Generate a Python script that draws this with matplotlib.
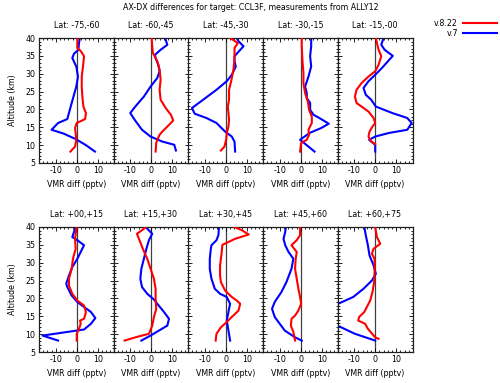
import matplotlib
matplotlib.use("Agg")
import matplotlib.pyplot as plt
from matplotlib.ticker import MultipleLocator

lat_labels = ["Lat: -75,-60", "Lat: -60,-45", "Lat: -45,-30", "Lat: -30,-15", "Lat: -15,-00",
              "Lat: +00,+15", "Lat: +15,+30", "Lat: +30,+45", "Lat: +45,+60", "Lat: +60,+75"]

# v.8.22 (red): altitude (km) and VMR diff (pptv) per latitude band
red_alt_1 = [8.2, 9.6, 11.5, 13.4, 14.8, 16.2, 17.3, 19.0, 20.8, 23.6, 26.4, 29.2, 32.0, 34.9, 36.3, 37.2, 40.0]
red_vmr_1 = [-3.0, -0.8, -0.2, -0.5, -0.8, 0.0, 4.0, 4.4, 3.2, 2.7, 2.4, 2.4, 3.0, 3.5, 2.0, 0.3, 0.3]
red_alt_2 = [8.2, 10.6, 11.5, 12.9, 13.8, 15.2, 16.9, 18.5, 20.4, 22.7, 25.5, 28.3, 31.1, 33.5, 35.8, 37.7, 40.0]
red_vmr_2 = [2.1, 2.4, 2.9, 4.0, 5.3, 7.7, 10.5, 9.4, 6.9, 4.5, 4.0, 4.5, 4.0, 2.9, 0.8, 0.5, 0.2]
red_alt_3 = [8.5, 9.6, 11.5, 13.4, 15.2, 17.1, 19.0, 20.8, 22.7, 25.5, 27.9, 31.1, 34.4, 37.2, 38.6, 40.0]
red_vmr_3 = [-2.3, -0.6, 0.2, 0.5, 1.3, 1.6, 1.3, 1.0, 1.6, 1.6, 2.6, 3.7, 4.2, 4.2, 5.8, 2.1]
red_alt_4 = [8.2, 10.6, 11.5, 12.9, 14.3, 16.2, 18.0, 19.9, 22.2, 24.6, 27.4, 30.2, 33.9, 37.7, 40.0]
red_vmr_4 = [-0.3, 0.2, 2.9, 4.0, 3.7, 5.3, 5.3, 4.0, 3.4, 2.1, 1.3, 1.3, 0.8, 0.5, 0.5]
red_alt_5 = [10.3, 11.0, 12.4, 13.8, 15.2, 16.2, 17.6, 19.4, 20.8, 21.8, 23.6, 25.5, 27.4, 29.2, 30.7, 32.5, 34.9, 36.7, 38.6, 40.0]
red_vmr_5 = [0.0, -1.9, -3.2, -2.7, -1.3, 0.0, -0.8, -3.2, -6.5, -8.9, -9.7, -8.9, -6.5, -3.2, 0.0, 1.6, 2.9, 1.6, 0.8, 0.3]
red_alt_6 = [8.2, 10.1, 11.5, 12.9, 13.8, 14.3, 16.2, 18.0, 19.4, 21.3, 23.6, 25.5, 28.3, 31.1, 33.9, 36.7, 40.0]
red_vmr_6 = [0.0, 0.0, 1.1, 1.9, 1.6, 3.5, 4.4, 3.5, 0.3, -2.1, -3.7, -3.7, -2.4, -1.8, -0.5, -0.8, 0.0]
red_alt_7 = [8.2, 9.1, 10.1, 12.4, 14.8, 17.1, 19.9, 22.7, 25.5, 28.3, 31.1, 33.9, 36.3, 38.1, 39.5, 40.0]
red_vmr_7 = [-12.7, -7.6, -1.1, 0.5, 1.3, 2.4, 2.1, 2.1, 1.3, -0.3, -1.9, -4.0, -5.6, -6.8, -3.5, -2.7]
red_alt_8 = [8.2, 10.1, 11.9, 13.4, 14.8, 16.6, 18.5, 19.4, 20.4, 22.2, 24.6, 26.4, 29.2, 33.0, 35.0, 36.7, 37.9, 39.1, 40.0]
red_vmr_8 = [-4.8, -4.4, -2.3, 0.5, 2.9, 6.1, 6.9, 5.3, 2.9, -0.3, -2.3, -2.7, -2.7, -1.9, -1.6, 4.5, 11.0, 7.7, 4.2]
red_alt_9 = [8.2, 10.6, 12.4, 14.3, 15.2, 16.6, 18.5, 20.4, 22.7, 25.5, 28.3, 31.1, 33.0, 34.9, 36.3, 37.7, 40.0]
red_vmr_9 = [-2.7, -3.5, -4.7, -4.4, -2.7, -1.1, 0.2, -0.3, -1.1, -1.9, -2.7, -2.4, -1.9, -4.4, -1.9, -0.3, -0.3]
red_alt_10 = [8.7, 9.1, 11.5, 12.9, 13.8, 14.8, 16.2, 17.6, 19.4, 21.8, 24.6, 27.4, 31.1, 32.5, 33.9, 35.3, 37.2, 40.0]
red_vmr_10 = [1.6, 0.0, -3.5, -4.8, -8.1, -7.7, -5.2, -4.0, -2.4, -1.3, -0.5, -0.3, -0.3, -1.6, -0.8, 2.4, 0.8, 0.0]

# v.7 (blue)
blue_alt_1 = [8.2, 10.0, 11.7, 13.2, 14.3, 16.2, 17.3, 19.0, 21.8, 24.1, 26.4, 29.2, 32.0, 34.4, 35.6, 36.7, 38.6, 40.0]
blue_vmr_1 = [8.7, 4.4, -0.5, -6.1, -12.0, -8.9, -4.5, -3.7, -2.4, -1.3, -0.2, 0.6, -0.2, -2.1, -1.3, 0.8, 1.1, 1.5]
blue_alt_2 = [8.5, 10.1, 11.0, 12.4, 14.3, 17.1, 19.0, 20.8, 23.6, 26.4, 28.8, 30.7, 32.5, 34.4, 35.3, 36.7, 38.1, 40.0]
blue_vmr_2 = [11.8, 11.0, 5.3, -0.3, -4.4, -7.9, -10.0, -7.6, -3.5, -0.3, 2.9, 4.0, 3.4, 2.1, 1.8, 4.5, 7.7, 6.6]
blue_alt_3 = [8.2, 11.0, 12.4, 13.8, 16.2, 17.6, 18.8, 20.4, 22.7, 25.5, 27.9, 29.7, 32.0, 33.5, 34.9, 37.7, 39.1, 40.0]
blue_vmr_3 = [4.5, 4.2, 2.9, -0.3, -4.4, -9.2, -14.8, -16.1, -10.8, -4.4, 0.5, 2.9, 4.8, 4.2, 4.2, 8.5, 6.1, 5.3]
blue_alt_4 = [8.2, 9.6, 11.5, 13.4, 14.8, 16.0, 17.6, 18.5, 19.9, 21.8, 23.2, 24.6, 26.4, 29.2, 32.0, 34.9, 37.7, 40.0]
blue_vmr_4 = [6.6, 3.7, -0.3, 4.2, 9.8, 13.4, 8.9, 6.1, 4.5, 4.5, 2.9, 2.9, 2.1, 3.7, 5.0, 4.5, 5.0, 5.0]
blue_alt_5 = [8.2, 10.1, 11.5, 12.4, 13.4, 14.3, 16.2, 17.6, 19.0, 20.8, 22.7, 24.1, 26.0, 27.9, 29.7, 31.6, 33.5, 35.0, 36.7, 38.1, 40.0]
blue_vmr_5 = [0.0, 0.0, -2.9, 0.0, 6.5, 15.3, 17.4, 15.3, 8.1, 0.3, -1.9, -4.5, -5.6, -3.2, 0.0, 3.2, 6.1, 8.4, 4.5, 2.9, 4.0]
blue_alt_6 = [8.2, 9.6, 11.3, 12.9, 14.5, 16.2, 17.6, 19.0, 20.8, 23.2, 24.1, 26.4, 28.8, 31.1, 34.9, 36.3, 37.2, 38.6, 40.0]
blue_vmr_6 = [-8.9, -16.3, 3.5, 6.8, 8.9, 6.8, 3.5, 0.3, -2.4, -4.5, -5.0, -3.7, -2.1, 0.3, 3.5, 0.3, -2.1, -1.3, -0.5]
blue_alt_7 = [8.2, 9.6, 11.0, 12.4, 14.3, 16.2, 18.5, 19.7, 21.3, 23.2, 25.5, 28.3, 31.1, 33.9, 36.3, 38.1, 40.0]
blue_vmr_7 = [-4.7, -0.3, 3.7, 7.7, 8.5, 6.1, 2.9, 1.3, -1.9, -4.4, -5.2, -4.7, -3.5, -2.3, -1.1, 0.5, -2.7]
blue_alt_8 = [8.2, 11.0, 13.8, 16.2, 18.5, 20.4, 21.3, 22.7, 25.5, 28.3, 31.1, 33.9, 34.9, 36.3, 37.7, 40.0]
blue_vmr_8 = [2.1, 1.3, 0.5, 1.3, 2.1, 0.5, -2.7, -5.2, -6.8, -7.6, -7.6, -7.1, -6.8, -4.4, -3.5, -3.2]
blue_alt_9 = [8.2, 9.1, 11.0, 12.9, 14.8, 17.1, 19.0, 21.8, 24.6, 28.3, 31.1, 33.0, 34.9, 36.7, 38.6, 40.0]
blue_vmr_9 = [0.5, -2.7, -7.6, -10.0, -12.4, -13.7, -12.4, -9.2, -6.8, -4.4, -3.5, -5.8, -7.4, -8.2, -7.4, -7.1]
blue_alt_10 = [8.2, 10.1, 13.5, 17.5, 18.5, 20.4, 22.7, 25.0, 26.9, 29.3, 32.0, 34.9, 37.7, 40.0]
blue_vmr_10 = [0.0, -9.7, -22.0, -22.0, -17.7, -10.5, -5.6, -1.6, 0.3, -0.8, -2.7, -3.5, -4.5, -5.2]

red_alts = [red_alt_1, red_alt_2, red_alt_3, red_alt_4, red_alt_5,
            red_alt_6, red_alt_7, red_alt_8, red_alt_9, red_alt_10]
red_vmrs = [red_vmr_1, red_vmr_2, red_vmr_3, red_vmr_4, red_vmr_5,
            red_vmr_6, red_vmr_7, red_vmr_8, red_vmr_9, red_vmr_10]
blue_alts = [blue_alt_1, blue_alt_2, blue_alt_3, blue_alt_4, blue_alt_5,
             blue_alt_6, blue_alt_7, blue_alt_8, blue_alt_9, blue_alt_10]
blue_vmrs = [blue_vmr_1, blue_vmr_2, blue_vmr_3, blue_vmr_4, blue_vmr_5,
             blue_vmr_6, blue_vmr_7, blue_vmr_8, blue_vmr_9, blue_vmr_10]

W, H = 500, 383
FS = 5.7
plt.rcParams["font.family"] = ["DejaVu Sans"]
plt.rcParams["axes.unicode_minus"] = False
fig = plt.figure(figsize=(W / 100, H / 100), dpi=100)

lefts = [39, 113.5, 188, 263, 337.5]
tops = [38, 227]
pw, ph = 75, 125

for i in range(10):
    row, col = divmod(i, 5)
    x0 = lefts[col]
    y0 = tops[row]
    ax = fig.add_axes([x0 / W, 1 - (y0 + ph) / H, pw / W, ph / H])
    ax.axvline(0, color="#404040", lw=0.9, zorder=1)
    ax.plot(red_vmrs[i], red_alts[i], color="red", lw=1.5, zorder=3)
    ax.plot(blue_vmrs[i], blue_alts[i], color="blue", lw=1.5, zorder=2)
    ax.set_xlim(-18, 17.8)
    ax.set_ylim(5, 40)
    ax.xaxis.set_major_locator(MultipleLocator(10))
    ax.xaxis.set_minor_locator(MultipleLocator(2))
    ax.yaxis.set_major_locator(MultipleLocator(5))
    ax.yaxis.set_minor_locator(MultipleLocator(1))
    ax.tick_params(which="both", direction="in", top=True, right=True,
                   labelsize=FS, pad=2.5, width=0.6)
    ax.tick_params(which="major", length=3)
    ax.tick_params(which="minor", length=1.5)
    for s in ax.spines.values():
        s.set_linewidth(0.9)
        s.set_color("#202020")
    if col != 0:
        ax.set_yticklabels([])
    else:
        ax.set_ylabel("Altitude (km)", fontsize=FS, labelpad=6)
    ax.set_xlabel("VMR diff (pptv)", fontsize=FS, labelpad=3)
    ax.set_title(lat_labels[i], fontsize=FS, pad=7)

fig.text(0.502, 1 - 7 / H, "AX-DX differences for target: CCL3F, measurements from ALLY12",
         ha="center", va="center", fontsize=FS)

# legend
fig.text(458 / W, 1 - 23 / H, "v.8.22", ha="right", va="center", fontsize=FS)
fig.text(458 / W, 1 - 33 / H, "v.7", ha="right", va="center", fontsize=FS)
fig.add_artist(plt.Line2D([463 / W, 497 / W], [1 - 23 / H] * 2, color="red", lw=1.5))
fig.add_artist(plt.Line2D([463 / W, 497 / W], [1 - 33 / H] * 2, color="blue", lw=1.5))

fig.savefig("out.png", dpi=100)
